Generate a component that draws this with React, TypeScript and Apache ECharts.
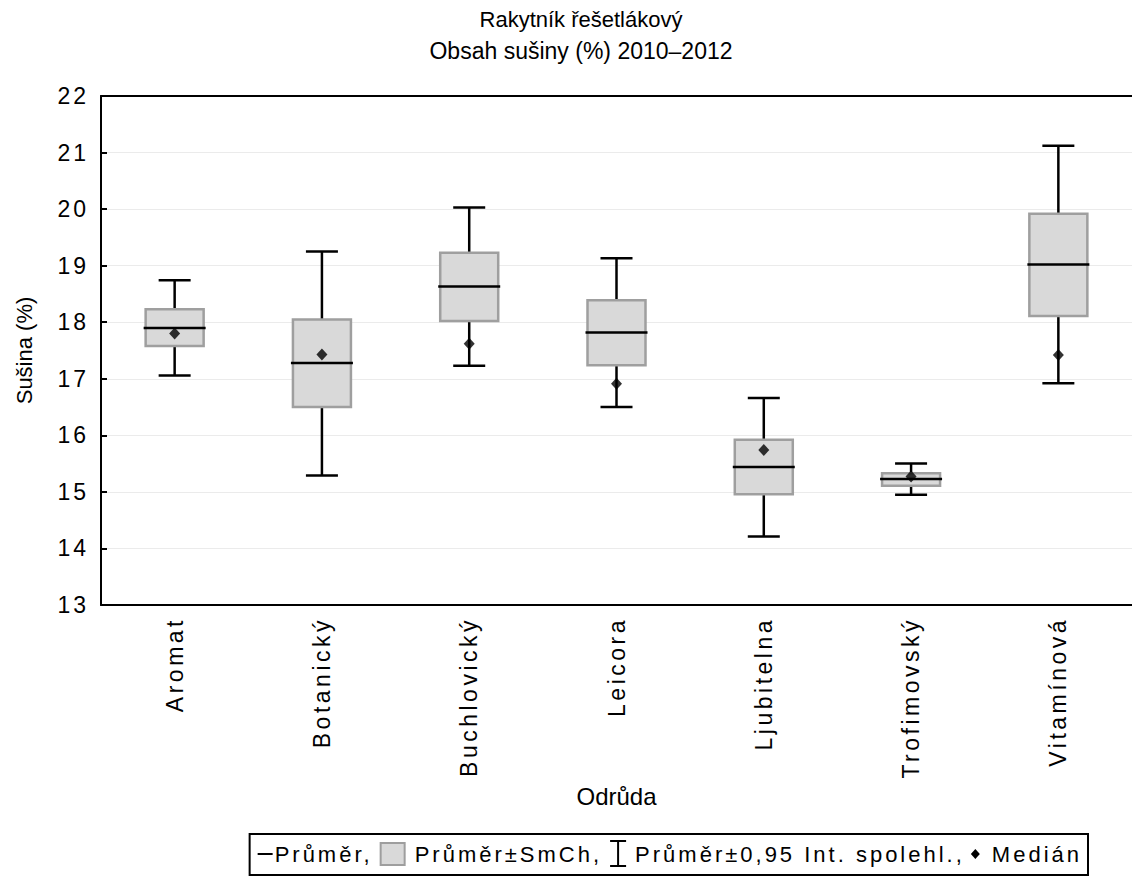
import React, { useEffect, useRef } from "react";
import * as echarts from "echarts";

// Varieties of sea buckthorn and dry matter content statistics (%)
const categories = [
  "Aromat",
  "Botanický",
  "Buchlovický",
  "Leicora",
  "Ljubitelna",
  "Trofimovský",
  "Vitamínová",
];
const means = [17.9, 17.28, 18.63, 17.82, 15.44, 15.23, 19.02];
const seLower = [17.58, 16.5, 18.02, 17.24, 14.96, 15.11, 18.11];
const seUpper = [18.23, 18.05, 19.23, 18.39, 15.92, 15.33, 19.92];
const ciLower = [17.06, 15.29, 17.23, 16.5, 14.21, 14.95, 16.92];
const ciUpper = [18.74, 19.25, 20.03, 19.13, 16.66, 15.5, 21.12];
const medians = [17.8, 17.43, 17.62, 16.91, 15.74, 15.27, 17.42];

const yMin = 13;
const yMax = 22;
const yStep = 1;

const titleLines = ["Rakytník řešetlákový", "Obsah sušiny (%) 2010–2012"];
const legendLabels = [
  "Průměr,",
  "Průměr±SmCh,",
  "Průměr±0,95 Int. spolehl.,",
  "Medián",
];

const FONT = "'Liberation Sans', Arial, sans-serif";
const CAT_SPACING = 3.5;
const TICK_SPACING = 3;
const LEGEND_SPACING = 3;
const LEGEND_FS = 22;

function measure(text: string, size: number, spacing: number): number {
  const c = document.createElement("canvas");
  const ctx = c.getContext("2d");
  const n = Array.from(text).length;
  if (!ctx) return n * (size * 0.55 + spacing);
  ctx.font = `${size}px ${FONT}`;
  return ctx.measureText(text).width + n * spacing;
}

function buildLegend() {
  const fs = LEGEND_FS;
  const cy = 854;
  const right = 1088;
  const w = legendLabels.map((t) => measure(t, fs, LEGEND_SPACING));
  const total = 8 + 15 + 2 + w[0] + 8 + 24 + 10 + w[1] + 8 + 16 + 9 + w[2] + 6 + 9 + 12 + w[3] + 6;
  const left = right - total;
  const children: any[] = [];
  const txt = (x: number, s: string) => ({
    type: "text",
    x,
    y: cy,
    style: { text: s, font: `${fs}px ${FONT}`, fill: "#000", verticalAlign: "middle" },
  });
  children.push({
    type: "rect",
    shape: { x: left, y: 834, width: total, height: 41 },
    style: { fill: "#fff", stroke: "#000", lineWidth: 2 },
  });
  let x = left + 8;
  // mean line symbol
  children.push({
    type: "line",
    shape: { x1: x, y1: cy, x2: x + 15, y2: cy },
    style: { stroke: "#000", lineWidth: 2 },
  });
  x += 17;
  children.push(txt(x, legendLabels[0]));
  x += w[0] + 8;
  // box symbol
  children.push({
    type: "rect",
    shape: { x, y: cy - 11, width: 24, height: 22 },
    style: { fill: "#d9d9d9", stroke: "#9e9e9e", lineWidth: 2 },
  });
  x += 24 + 10;
  children.push(txt(x, legendLabels[1]));
  x += w[1] + 8;
  // whisker symbol
  const wx = x + 8;
  children.push(
    { type: "line", shape: { x1: wx, y1: cy - 13, x2: wx, y2: cy + 12 }, style: { stroke: "#000", lineWidth: 2 } },
    { type: "line", shape: { x1: wx - 8, y1: cy - 13, x2: wx + 8, y2: cy - 13 }, style: { stroke: "#000", lineWidth: 2 } },
    { type: "line", shape: { x1: wx - 8, y1: cy + 12, x2: wx + 8, y2: cy + 12 }, style: { stroke: "#000", lineWidth: 2 } }
  );
  x += 16 + 9;
  children.push(txt(x, legendLabels[2]));
  x += w[2] + 6;
  // median symbol
  const dx = x + 4.5;
  children.push({
    type: "polygon",
    shape: { points: [[dx, cy - 5], [dx + 4.5, cy], [dx, cy + 5], [dx - 4.5, cy]] },
    style: { fill: "#000" },
  });
  x += 9 + 12;
  children.push(txt(x, legendLabels[3]));
  return { type: "group", children };
}

function spacingFor(s: string | null): number {
  if (!s) return 0;
  if (categories.includes(s)) return CAT_SPACING;
  if (legendLabels.includes(s)) return LEGEND_SPACING;
  if (/^\d+$/.test(s)) return TICK_SPACING;
  return 0;
}

export default function App() {
  const ref = useRef<HTMLDivElement>(null);

  useEffect(() => {
    if (!ref.current) return;
    const el = ref.current;
    const chart = echarts.init(el, undefined, { renderer: "svg" });

    const boxData = categories.map((_, i) => [
      i,
      ciLower[i],
      seLower[i],
      means[i],
      seUpper[i],
      ciUpper[i],
    ]);

    const option: any = {
      animation: false,
      backgroundColor: "#fff",
      textStyle: { fontFamily: FONT },
      grid: { left: 101, top: 96, width: 1036, height: 509, containLabel: false },
      xAxis: [
        {
          type: "category",
          data: categories,
          position: "bottom",
          boundaryGap: true,
          axisLine: { lineStyle: { color: "#000", width: 2 } },
          axisTick: { inside: true, alignWithLabel: true, length: 6, lineStyle: { color: "#000", width: 2 } },
          axisLabel: { rotate: 90, fontSize: 23, color: "#000", margin: 12, fontFamily: FONT },
          name: "Odrůda",
          nameLocation: "middle",
          nameGap: 179,
          nameTextStyle: { fontSize: 24, color: "#000", fontFamily: FONT, verticalAlign: "top" },
          splitLine: { show: false },
        },
        {
          type: "category",
          data: categories,
          position: "top",
          boundaryGap: true,
          axisLine: { lineStyle: { color: "#000", width: 2 } },
          axisTick: { inside: true, alignWithLabel: true, length: 6, lineStyle: { color: "#000", width: 2 } },
          axisLabel: { show: false },
          splitLine: { show: false },
        },
      ],
      yAxis: {
        type: "value",
        min: yMin,
        max: yMax,
        interval: yStep,
        axisLine: { show: true, lineStyle: { color: "#000", width: 2 } },
        axisTick: { show: true, inside: true, length: 6, lineStyle: { color: "#000", width: 2 } },
        axisLabel: { fontSize: 23, color: "#000", margin: 12, fontFamily: FONT },
        splitLine: { show: true, lineStyle: { color: "#ebebeb", width: 1 } },
        name: "Sušina (%)",
        nameLocation: "middle",
        nameGap: 66,
        nameTextStyle: { fontSize: 22, color: "#000", fontFamily: FONT },
      },
      series: [
        {
          type: "custom",
          name: "Průměr±SmCh",
          xAxisIndex: 0,
          data: boxData,
          encode: { x: 0, y: [1, 2, 3, 4, 5] },
          z: 3,
          renderItem: (_params: any, api: any) => {
            const i = api.value(0);
            const pCiLo = api.coord([i, api.value(1)]);
            const pSeLo = api.coord([i, api.value(2)]);
            const pMean = api.coord([i, api.value(3)]);
            const pSeHi = api.coord([i, api.value(4)]);
            const pCiHi = api.coord([i, api.value(5)]);
            const cx = pMean[0];
            const boxHalf = 29;
            const capHalf = 16;
            const meanHalf = 31;
            const black = { stroke: "#000", lineWidth: 2.5 };
            return {
              type: "group",
              children: [
                { type: "line", shape: { x1: cx, y1: pCiLo[1], x2: cx, y2: pCiHi[1] }, style: black },
                { type: "line", shape: { x1: cx - capHalf, y1: pCiLo[1], x2: cx + capHalf, y2: pCiLo[1] }, style: black },
                { type: "line", shape: { x1: cx - capHalf, y1: pCiHi[1], x2: cx + capHalf, y2: pCiHi[1] }, style: black },
                {
                  type: "rect",
                  shape: { x: cx - boxHalf, y: pSeHi[1], width: boxHalf * 2, height: pSeLo[1] - pSeHi[1] },
                  style: { fill: "#d9d9d9", stroke: "#9f9f9f", lineWidth: 2.5 },
                },
                { type: "line", shape: { x1: cx - meanHalf, y1: pMean[1], x2: cx + meanHalf, y2: pMean[1] }, style: black },
              ],
            };
          },
        },
        {
          type: "scatter",
          name: "Medián",
          xAxisIndex: 0,
          data: medians,
          symbol: "diamond",
          symbolSize: [11, 12],
          itemStyle: { color: "#000" },
          z: 5,
        },
      ],
      graphic: [
        {
          type: "text",
          x: 581,
          y: 19,
          style: { text: titleLines[0], font: `22px ${FONT}`, fill: "#000", align: "center", verticalAlign: "middle" },
        },
        {
          type: "text",
          x: 581,
          y: 51,
          style: { text: titleLines[1], font: `23px ${FONT}`, fill: "#000", align: "center", verticalAlign: "middle" },
        },
        buildLegend(),
      ],
    };

    // widen letter spacing of tick and legend labels
    const applySpacing = () => {
      el.querySelectorAll("text").forEach((t) => {
        const s = spacingFor(t.textContent);
        if (s) t.setAttribute("letter-spacing", `${s}px`);
      });
    };

    chart.on("finished", applySpacing);
    chart.setOption(option);
    applySpacing();
    const raf = requestAnimationFrame(applySpacing);
    return () => {
      cancelAnimationFrame(raf);
      chart.dispose();
    };
  }, []);

  return (
    <div
      ref={ref}
      style={{ position: "absolute", left: 0, top: 0, width: 1132, height: 876, background: "#fff" }}
    />
  );
}
